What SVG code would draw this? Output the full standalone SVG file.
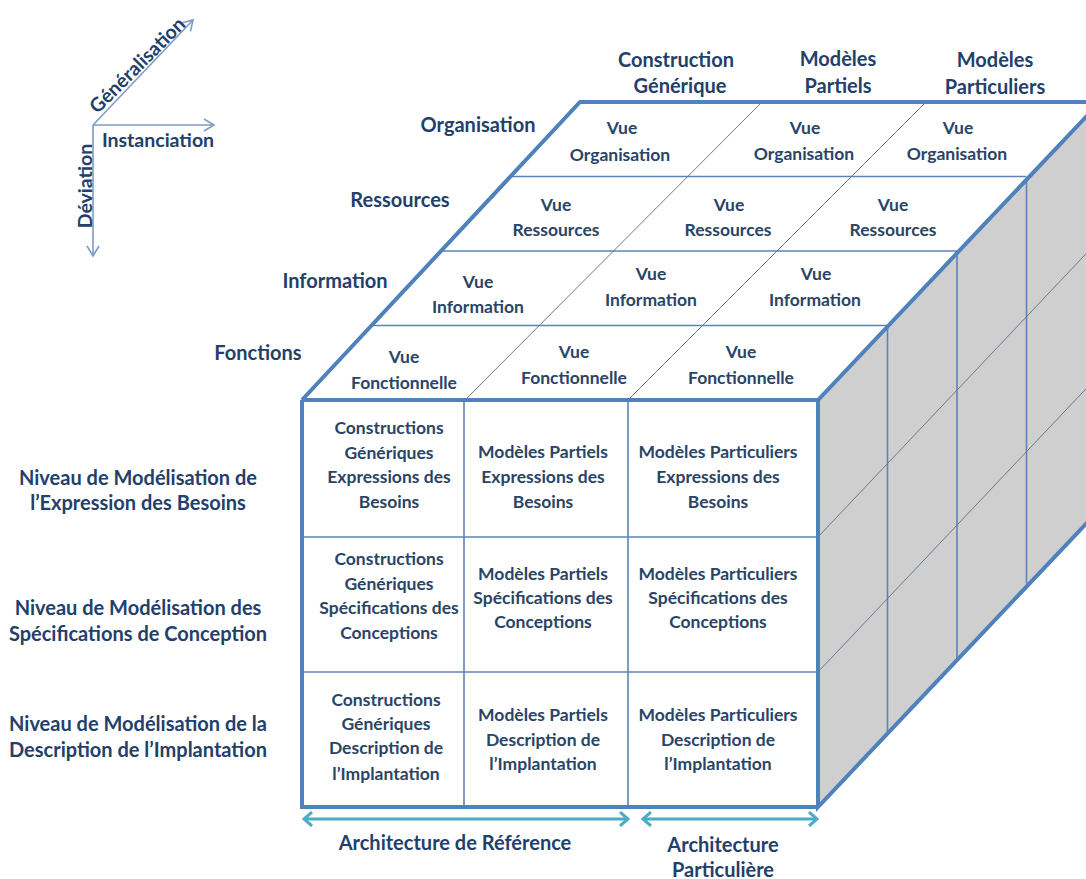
<svg xmlns="http://www.w3.org/2000/svg" width="1086" height="879" viewBox="0 0 1086 879">
<defs>
<style>
text{font-family:Lato,"Liberation Sans",sans-serif;font-weight:700;text-anchor:middle;}
.lbl{font-size:20px;fill:#22406a;}
.cell{font-size:17.5px;fill:#2a4466;}
.ax{font-size:19.5px;fill:#22406a;}
.thick{fill:none;stroke:#4f81bd;stroke-width:4;stroke-linejoin:miter;}
.thin{fill:none;stroke:#5b84b8;stroke-width:1.6;}
.diag{fill:none;stroke:#6a7890;stroke-width:1;}
.axis{fill:none;stroke:#7f9bc4;stroke-width:1.6;}
.dim{fill:none;stroke:#4bacc6;stroke-width:3;}
</style>
<marker id="axhead" viewBox="0 0 14 14" refX="12" refY="7" markerWidth="14" markerHeight="14" markerUnits="userSpaceOnUse" orient="auto">
<path d="M2,1 L12,7 L2,13" fill="none" stroke="#7f9bc4" stroke-width="1.6"/>
</marker>
<marker id="dimhead" viewBox="0 0 16 16" refX="14" refY="8" markerWidth="16" markerHeight="16" markerUnits="userSpaceOnUse" orient="auto-start-reverse">
<path d="M6,1 L14,8 L6,15" fill="none" stroke="#4bacc6" stroke-width="3"/>
</marker>
</defs>
<rect x="0" y="0" width="1086" height="879" fill="#ffffff"/>

<!-- Cube faces -->
<g id="face-right">
<polygon points="818,400 1100,102 1100,509 818,807" fill="#cfcfcf"/>
<line class="thin" x1="887.5" y1="325.5" x2="887.5" y2="732.5"/>
<line class="thin" x1="957" y1="251" x2="957" y2="658"/>
<line class="thin" x1="1026.5" y1="176.5" x2="1026.5" y2="583.5"/>
<line class="diag" x1="818" y1="537" x2="1100" y2="239"/>
<line class="diag" x1="818" y1="672" x2="1100" y2="374"/>
</g>
<g id="face-top">
<polygon points="303,400 580,102 1100,102 818,400" fill="#ffffff"/>
<line class="thin" x1="372" y1="325.5" x2="887.5" y2="325.5"/>
<line class="thin" x1="441.5" y1="251" x2="957" y2="251"/>
<line class="thin" x1="511" y1="176.5" x2="1026.5" y2="176.5"/>
<line class="diag" x1="465" y1="400" x2="762" y2="102"/>
<line class="diag" x1="628" y1="400" x2="926" y2="102"/>
</g>
<g id="face-front">
<rect x="302" y="400" width="516" height="407" fill="#ffffff"/>
<line class="thin" x1="464" y1="400" x2="464" y2="807"/>
<line class="thin" x1="628" y1="400" x2="628" y2="807"/>
<line class="thin" x1="302" y1="537" x2="818" y2="537"/>
<line class="thin" x1="302" y1="672" x2="818" y2="672"/>
</g>
<g id="cube-outline">
<path class="thick" d="M302,400 L580,102 L1100,102 M302,400 L818,400 L1100,102 M818,400 L818,807 L1100,509 M302,400 L302,807 L818,807"/>
</g>

<!-- Axes -->
<g id="connectors">
<line class="axis" x1="93" y1="125" x2="214" y2="125" marker-end="url(#axhead)"/>
<line class="axis" x1="93" y1="125" x2="93" y2="256" marker-end="url(#axhead)"/>
<line class="axis" x1="93" y1="125" x2="193" y2="20" marker-end="url(#axhead)"/>
<line class="dim" x1="304" y1="819" x2="628" y2="819" marker-start="url(#dimhead)" marker-end="url(#dimhead)"/>
<line class="dim" x1="643" y1="819" x2="817" y2="819" marker-start="url(#dimhead)" marker-end="url(#dimhead)"/>
</g>
<g id="axis-labels">
<text class="ax" x="0" y="0" transform="translate(142,70) rotate(-45)">Généralisation</text>
<text class="ax" x="158" y="147">Instanciation</text>
<text class="ax" x="0" y="0" transform="translate(92,186) rotate(-90)">Déviation</text>
</g>

<!-- Column labels -->
<g id="col-construction"><text class="lbl" x="676" y="67">Construction</text><text class="lbl" x="680" y="93">Générique</text></g>
<g id="col-partiels"><text class="lbl" x="838" y="66">Modèles</text><text class="lbl" x="838" y="93">Partiels</text></g>
<g id="col-particuliers"><text class="lbl" x="995" y="67">Modèles</text><text class="lbl" x="995" y="94">Particuliers</text></g>

<!-- Row labels (top face) -->
<g id="row-organisation"><text class="lbl" x="478" y="132">Organisation</text></g>
<g id="row-ressources"><text class="lbl" x="400" y="207">Ressources</text></g>
<g id="row-information"><text class="lbl" x="335" y="288">Information</text></g>
<g id="row-fonctions"><text class="lbl" x="258" y="360">Fonctions</text></g>

<!-- Top face cells -->
<g id="top-org-1"><text class="cell" x="622" y="134">Vue</text><text class="cell" x="620" y="161">Organisation</text></g>
<g id="top-org-2"><text class="cell" x="805" y="134">Vue</text><text class="cell" x="804" y="160">Organisation</text></g>
<g id="top-org-3"><text class="cell" x="958" y="134">Vue</text><text class="cell" x="957" y="160">Organisation</text></g>
<g id="top-res-1"><text class="cell" x="556" y="211">Vue</text><text class="cell" x="556" y="236">Ressources</text></g>
<g id="top-res-2"><text class="cell" x="729" y="211">Vue</text><text class="cell" x="728" y="236">Ressources</text></g>
<g id="top-res-3"><text class="cell" x="893" y="211">Vue</text><text class="cell" x="893" y="236">Ressources</text></g>
<g id="top-inf-1"><text class="cell" x="478" y="288">Vue</text><text class="cell" x="478" y="313">Information</text></g>
<g id="top-inf-2"><text class="cell" x="651" y="280">Vue</text><text class="cell" x="651" y="306">Information</text></g>
<g id="top-inf-3"><text class="cell" x="816" y="280">Vue</text><text class="cell" x="815" y="306">Information</text></g>
<g id="top-fon-1"><text class="cell" x="404" y="363">Vue</text><text class="cell" x="404" y="389">Fonctionnelle</text></g>
<g id="top-fon-2"><text class="cell" x="574" y="358">Vue</text><text class="cell" x="574" y="384">Fonctionnelle</text></g>
<g id="top-fon-3"><text class="cell" x="741" y="358">Vue</text><text class="cell" x="741" y="384">Fonctionnelle</text></g>

<!-- Front face cells -->
<g id="front-1-1"><text class="cell" x="389" y="434">Constructions</text><text class="cell" x="389" y="459">Génériques</text><text class="cell" x="389" y="483">Expressions des</text><text class="cell" x="389" y="508">Besoins</text></g>
<g id="front-1-2"><text class="cell" x="543" y="458">Modèles Partiels</text><text class="cell" x="543" y="483">Expressions des</text><text class="cell" x="543" y="508">Besoins</text></g>
<g id="front-1-3"><text class="cell" x="718" y="458">Modèles Particuliers</text><text class="cell" x="718" y="483">Expressions des</text><text class="cell" x="718" y="508">Besoins</text></g>
<g id="front-2-1"><text class="cell" x="389" y="565">Constructions</text><text class="cell" x="389" y="590">Génériques</text><text class="cell" x="389" y="614">Spécifications des</text><text class="cell" x="389" y="639">Conceptions</text></g>
<g id="front-2-2"><text class="cell" x="543" y="580">Modèles Partiels</text><text class="cell" x="543" y="604">Spécifications des</text><text class="cell" x="543" y="628">Conceptions</text></g>
<g id="front-2-3"><text class="cell" x="718" y="580">Modèles Particuliers</text><text class="cell" x="718" y="604">Spécifications des</text><text class="cell" x="718" y="628">Conceptions</text></g>
<g id="front-3-1"><text class="cell" x="386" y="706">Constructions</text><text class="cell" x="386" y="730">Génériques</text><text class="cell" x="386" y="754">Description de</text><text class="cell" x="386" y="780">l’Implantation</text></g>
<g id="front-3-2"><text class="cell" x="543" y="721">Modèles Partiels</text><text class="cell" x="543" y="746">Description de</text><text class="cell" x="543" y="770">l’Implantation</text></g>
<g id="front-3-3"><text class="cell" x="718" y="721">Modèles Particuliers</text><text class="cell" x="718" y="746">Description de</text><text class="cell" x="718" y="770">l’Implantation</text></g>

<!-- Level labels -->
<g id="level-1"><text class="lbl" x="138" y="485">Niveau de Modélisation de</text><text class="lbl" x="138" y="510">l’Expression des Besoins</text></g>
<g id="level-2"><text class="lbl" x="138" y="615">Niveau de Modélisation des</text><text class="lbl" x="138" y="641">Spécifications de Conception</text></g>
<g id="level-3"><text class="lbl" x="138" y="731">Niveau de Modélisation de la</text><text class="lbl" x="138" y="757">Description de l’Implantation</text></g>

<!-- Bottom labels -->
<g id="arch-ref"><text class="lbl" x="455" y="850">Architecture de Référence</text></g>
<g id="arch-part"><text class="lbl" x="723" y="852">Architecture</text><text class="lbl" x="723" y="877">Particulière</text></g>
</svg>
